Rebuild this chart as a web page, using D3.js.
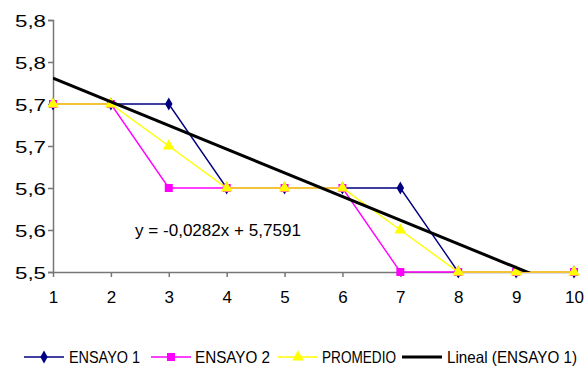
<!DOCTYPE html>
<html><head><meta charset="utf-8">
<script src="https://cdn.jsdelivr.net/npm/d3@7"></script>
<style>body{margin:0;background:#fff}svg{display:block;font-family:"Liberation Sans",Arial,sans-serif}</style>
</head><body><svg id="c" width="587" height="370"></svg>
<script>
const xValues = [1,2,3,4,5,6,7,8,9,10];
const ensayo1 = [5.7,5.7,5.7,5.6,5.6,5.6,5.6,5.5,5.5,5.5];
const ensayo2 = [5.7,5.7,5.6,5.6,5.6,5.6,5.5,5.5,5.5,5.5];
const promedio = [5.7,5.7,5.65,5.6,5.6,5.6,5.55,5.5,5.5,5.5];
const trendCoef = [-0.0282, 5.7591];
const yTicks = [5.5,5.55,5.6,5.65,5.7,5.75,5.8];
const yTickLabels = ["5,5","5,6","5,6","5,7","5,7","5,8","5,8"];
const seriesNames = ["ENSAYO 1","ENSAYO 2","PROMEDIO","Lineal (ENSAYO 1)"];
const equationText = "y = -0,0282x + 5,7591";

const svg = d3.select("#c");
const L=53,R=574,T=20,B=272;
const x = d3.scaleLinear().domain([1,10]).range([L,R]);
const y = d3.scaleLinear().domain([5.5,5.8]).range([B,T]);
const axisCol="#777";

// y axis
const ya = svg.append("g").attr("transform",`translate(${L},0)`)
  .call(d3.axisLeft(y).tickValues(yTicks).tickSize(5).tickFormat((d,i)=>yTickLabels[i]));
ya.select(".domain").attr("stroke",axisCol).attr("stroke-width",1.5);
ya.selectAll(".tick line").attr("stroke",axisCol).attr("stroke-width",1.5);
ya.selectAll(".tick text").attr("font-size",17).attr("fill","#000").attr("x",-7)
  .attr("font-family","Liberation Sans, Arial, sans-serif")
  .attr("textLength",31).attr("lengthAdjust","spacingAndGlyphs").attr("dy","0.36em");

// x axis
const xa = svg.append("g").attr("transform",`translate(0,${B})`)
  .call(d3.axisBottom(x).tickValues(xValues).tickSize(5).tickFormat(d3.format("d")).tickSizeOuter(0));
xa.select(".domain").attr("stroke",axisCol).attr("stroke-width",1.5);
xa.selectAll(".tick line").attr("stroke",axisCol).attr("stroke-width",1.5);
xa.selectAll(".tick text").attr("font-size",17).attr("fill","#000").attr("y",19)
  .attr("font-family","Liberation Sans, Arial, sans-serif").attr("dy","0.71em");

svg.append("clipPath").attr("id","clip").append("rect")
  .attr("x",L).attr("y",T).attr("width",R-L).attr("height",B-T);

const series = [
  {vals:ensayo1,color:"#000080",sym:d3.symbolDiamond,size:48},
  {vals:ensayo2,color:"#FF00FF",sym:d3.symbolSquare,size:64},
  {vals:promedio,color:"#FFFF00",sym:d3.symbolTriangle,size:60}
];
const line = d3.line().x((d,i)=>x(xValues[i])).y(d=>y(d));
series.forEach(s=>{
  svg.append("path").attr("d",line(s.vals)).attr("fill","none")
    .attr("stroke",s.color).attr("stroke-width",1.4);
  svg.append("g").selectAll("path").data(s.vals).join("path")
    .attr("transform",(d,i)=>`translate(${x(xValues[i])},${y(d)})`)
    .attr("d",d3.symbol().type(s.sym).size(s.size)).attr("fill",s.color);
});

// trend line
svg.append("line").attr("clip-path","url(#clip)")
  .attr("x1",x(1)).attr("y1",y(trendCoef[0]*1+trendCoef[1]))
  .attr("x2",x(10)).attr("y2",y(trendCoef[0]*10+trendCoef[1]))
  .attr("stroke","#000").attr("stroke-width",3);

svg.append("text").attr("x",135).attr("y",236).attr("font-size",16.5)
  .attr("textLength",166).attr("lengthAdjust","spacingAndGlyphs").text(equationText);

// legend
const legend = [
  {x1:24,tx:69,tw:71,color:"#000080",sym:d3.symbolDiamond,size:48,w:1.4},
  {x1:151,tx:195,tw:75,color:"#FF00FF",sym:d3.symbolSquare,size:64,w:1.4},
  {x1:278,tx:322,tw:74,color:"#FFFF00",sym:d3.symbolTriangle,size:60,w:1.4},
  {x1:402,tx:447,tw:130,color:"#000",sym:null,w:3}
];
const ly=357;
legend.forEach((l,i)=>{
  svg.append("line").attr("x1",l.x1).attr("x2",l.x1+40).attr("y1",ly).attr("y2",ly)
    .attr("stroke",l.color).attr("stroke-width",l.w);
  if(l.sym) svg.append("path").attr("transform",`translate(${l.x1+20},${ly})`)
    .attr("d",d3.symbol().type(l.sym).size(l.size)).attr("fill",l.color);
  svg.append("text").attr("x",l.tx).attr("y",ly+6).attr("font-size",16.5)
    .attr("textLength",l.tw).attr("lengthAdjust","spacingAndGlyphs").text(seriesNames[i]);
});
</script></body></html>
